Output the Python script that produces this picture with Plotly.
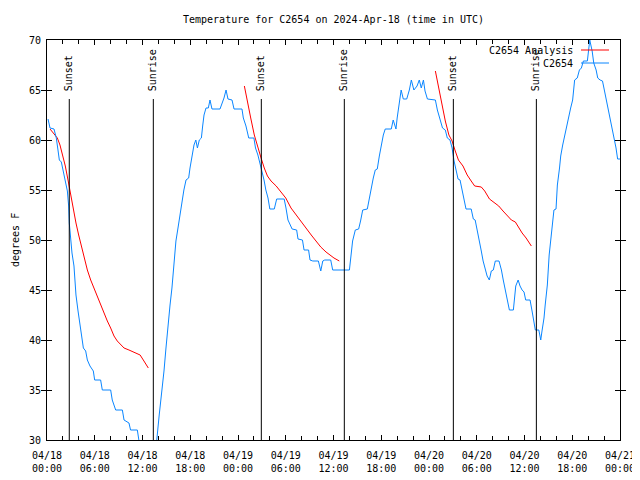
import pandas as pd
import plotly.graph_objects as go

START = pd.Timestamp("2024-04-18 00:00")

# Observed C2654 temperature (hours since 2024-04-18 00:00 UTC, degrees F)
obs_hours = [0.13, 0.38, 0.88, 1.17, 1.38, 1.55, 1.80, 2.05, 2.30, 2.56, 2.72, 2.80, 2.97, 3.14,
             3.39, 3.64, 3.90, 4.23, 4.57, 4.86, 5.07, 5.40, 5.82, 5.99, 6.74, 6.95, 8.00, 8.20,
             8.63, 9.47, 9.68, 10.30, 10.50, 11.35, 11.56, 12.0, 12.8, 13.4, 13.78, 14.10, 14.45,
             14.70, 14.95, 15.20, 15.46, 15.70, 15.96, 16.20, 16.46, 16.70, 16.96, 17.20, 17.47,
             17.80, 17.97, 18.20, 18.47, 18.70, 18.90, 19.14, 19.40, 19.56, 19.73, 19.98, 20.27,
             20.48, 20.73, 21.74, 22.24, 22.50, 22.74, 23.25, 23.50, 24.50, 24.67, 25.00, 25.35,
             26.00, 26.20, 26.50, 26.70, 27.00, 27.27, 27.50, 27.77, 28.00, 28.56, 28.86, 29.80,
             30.03, 30.28, 30.80, 31.37, 31.54, 32.10, 32.30, 32.87, 33.05, 33.40, 34.10, 34.40,
             34.65, 34.90, 35.65, 35.90, 38.00, 38.16, 38.40, 38.74, 39.16, 39.40, 39.67, 40.25,
             40.50, 40.76, 41.00, 41.25, 41.50, 41.76, 42.00, 42.26, 42.50, 43.26, 43.50, 43.85,
             44.00, 44.27, 44.50, 44.77, 45.20, 45.53, 45.78, 46.10, 46.50, 46.78, 47.03, 47.30,
             47.50, 47.80, 48.80, 49.05, 49.40, 49.70, 50.05, 50.30, 50.64, 50.90, 51.15, 51.40,
             51.65, 51.90, 52.15, 52.40, 52.65, 53.30, 53.57, 53.80, 54.07, 54.30, 54.57, 54.80,
             55.08, 55.30, 55.58, 55.83, 56.08, 56.33, 56.80, 57.10, 57.33, 57.60, 57.84, 58.10,
             58.60, 58.78, 58.90, 59.20, 59.44, 59.70, 59.94, 60.15, 60.70, 60.95, 61.20, 61.36,
             61.80, 62.04, 62.20, 62.45, 62.60, 62.87, 63.10, 63.30, 63.46, 63.70, 63.96, 64.13,
             64.40, 64.55, 64.80, 65.05, 65.30, 65.55, 65.80, 66.05, 66.30, 66.63, 66.90, 67.15,
             67.40, 67.90, 68.15, 68.20, 68.50, 68.70, 69.00, 69.20, 69.50, 69.80, 69.98, 70.24,
             70.50, 70.75, 71.00, 71.25, 71.50, 71.70, 72.00]
obs_temp = [62.1, 61.2, 61.1, 60.2, 59.0, 58.0, 57.8, 56.9, 55.9, 54.9, 53.4, 51.7, 50.2, 48.7,
            47.4, 44.5, 42.9, 41.2, 39.2, 38.9, 38.0, 37.4, 36.9, 36.0, 36.0, 35.0, 35.0, 34.0,
            33.0, 33.0, 32.0, 31.7, 31.0, 31.0, 29.9, 28.6, 27.8, 28.4, 29.9, 32.5, 34.9,
            36.9, 39.2, 41.5, 43.5, 45.2, 47.5, 49.9, 51.2, 52.5, 53.9, 55.0, 56.0,
            56.2, 57.2, 58.5, 59.5, 60.0, 59.2, 60.0, 60.2, 61.4, 62.5, 63.2, 63.2,
            64.0, 63.1, 63.1, 64.2, 65.0, 64.1, 64.0, 63.1, 63.1, 62.2, 61.4, 60.2,
            60.2, 59.2, 58.5, 57.9, 56.9, 56.0, 55.0, 54.2, 53.1, 53.1, 54.1, 54.1,
            53.2, 52.0, 51.1, 51.0, 50.1, 50.0, 49.0, 49.0, 48.0, 47.9, 47.9, 46.9,
            47.9, 48.0, 48.0, 47.0, 47.0, 48.5, 49.9, 51.0, 51.1, 51.9, 53.0, 53.1,
            54.2, 55.2, 56.2, 57.0, 57.1, 58.4, 59.5, 60.5, 61.1, 61.1, 62.0, 61.1,
            62.2, 63.7, 65.0, 64.1, 64.1, 65.0, 66.0, 65.0, 65.4, 66.0, 65.2, 66.0,
            64.9, 64.1, 64.0, 63.0, 62.1, 61.2, 61.0, 60.2, 60.0, 59.2, 57.9, 56.9,
            56.1, 56.0, 55.0, 54.0, 53.1, 53.1, 52.1, 52.0, 51.0, 50.0, 48.9, 47.9,
            46.9, 46.4, 46.0, 46.9, 47.0, 47.9, 47.9, 47.0, 46.0, 44.9, 44.0, 43.0,
            43.0, 44.2, 45.4, 46.0, 45.4, 45.0, 44.8, 44.0, 44.0, 42.9, 41.9, 41.0,
            41.0, 40.0, 40.9, 42.2, 43.5, 45.5, 48.5, 50.2, 51.7, 53.0, 53.1, 55.5,
            57.2, 58.4, 59.5, 60.5, 61.4, 62.2, 63.2, 64.0, 66.0, 66.2, 67.0, 67.2,
            67.9, 67.9, 69.5, 70.0, 68.9, 67.7, 67.0, 66.2, 66.0, 65.9, 65.2, 64.2,
            63.2, 62.2, 61.2, 60.2, 59.2, 58.1, 58.1]

# Analysis series, one segment per night
ana1_hours = [0.38, 1.30, 1.63, 1.97, 2.30, 2.64, 2.97, 3.30, 3.64, 3.98, 4.31, 4.65, 5.07, 5.49,
              5.90, 6.32, 6.74, 7.16, 7.58, 8.00, 8.42, 8.83, 9.26, 9.68, 10.30, 10.93, 11.56,
              11.70, 12.10, 12.73]
ana1_temp = [61.1, 60.2, 59.5, 58.5, 57.4, 56.0, 54.5, 53.2, 51.7, 50.5, 49.4, 48.2, 47.0, 46.0,
             45.2, 44.2, 43.5, 42.7, 41.9, 41.2, 40.4, 39.9, 39.5, 39.2, 39.0, 38.8, 38.6,
             38.5, 38.0, 37.2]
ana2_hours = [24.80, 25.20, 25.60, 26.05, 26.50, 26.90, 27.30, 27.70, 28.15, 28.80, 29.40, 30.00,
              30.66, 31.30, 31.90, 32.55, 33.20, 33.80, 34.40, 35.06, 36.06, 36.73]
ana2_temp = [65.4, 63.7, 62.2, 60.5, 59.2, 58.2, 57.2, 56.4, 55.9, 55.4, 54.8, 54.2,
             53.2, 52.5, 51.9, 51.2, 50.5, 49.9, 49.3, 48.8, 48.2, 47.9]
ana3_hours = [48.80, 49.20, 49.60, 50.05, 50.50, 50.90, 51.30, 51.70, 52.27, 52.80, 53.30, 53.74,
              54.57, 55.00, 55.60, 56.26, 56.76, 57.30, 57.84, 58.35, 58.85, 59.27, 59.70, 60.20,
              60.86]
ana3_temp = [66.9, 65.2, 63.5, 61.9, 60.5, 59.9, 58.9, 58.0, 57.4, 56.5, 55.9, 55.4,
             55.3, 54.9, 54.1, 53.7, 53.4, 52.9, 52.4, 52.0, 51.8, 51.2, 50.7, 50.2,
             49.4]

sun_labels = ["Sunset", "Sunrise", "Sunset", "Sunrise", "Sunset", "Sunrise"]
sun_hours = [2.80, 13.36, 26.93, 37.36, 51.06, 61.49]

y_ticks = [30, 35, 40, 45, 50, 55, 60, 65, 70]
x_tick_count = 13  # every 6 hours over 3 days


def to_time(hours):
    return [None if h is None else START + pd.Timedelta(hours=h) for h in hours]


ana_hours = ana1_hours + [None] + ana2_hours + [None] + ana3_hours
ana_temp = ana1_temp + [None] + ana2_temp + [None] + ana3_temp

FONT = "DejaVu Sans Mono"
BLUE = "#0a86ff"
RED = "#ff0000"

# page body adds an 8px offset; figure is sized so the plot lands where the reference has it
W, H = 632, 472
ML, MT, MR, MB = 39, 32, 20, 40
PW, PH = W - ML - MR, H - MT - MB  # 573 x 400


def px_x(sx):  # screen x -> paper
    return (sx - 8 - ML) / PW


def px_y(sy):  # screen y -> paper
    return (H - MB - (sy - 8)) / PH


xt = pd.date_range(START, periods=x_tick_count, freq="6h")
x_range = [START, START + pd.Timedelta(hours=72)]

fig = go.Figure()
fig.add_trace(go.Scatter(x=to_time(ana_hours), y=ana_temp, mode="lines",
                         name="C2654 Analysis", line=dict(color=RED, width=1),
                         connectgaps=False, showlegend=False))
fig.add_trace(go.Scatter(x=to_time(obs_hours), y=obs_temp, mode="lines",
                         name="C2654", line=dict(color=BLUE, width=1), showlegend=False))
# empty carrier trace so the second (time-of-day) label row is drawn
fig.add_trace(go.Scatter(x=x_range, y=[None, None], xaxis="x2", yaxis="y", mode="lines",
                         showlegend=False, hoverinfo="skip"))

# sunrise / sunset markers
for lab, h in zip(sun_labels, sun_hours):
    t = START + pd.Timedelta(hours=h)
    fig.add_shape(type="line", xref="x", yref="paper", x0=t, x1=t, y0=0, y1=px_y(99),
                  line=dict(color="black", width=1))
    fig.add_annotation(x=t, xref="x", y=px_y(93), yref="paper", text=lab,
                       textangle=-90, showarrow=False, xanchor="center", yanchor="bottom",
                       font=dict(family=FONT, size=10, color="black"))

# legend (gnuplot style: text, then sample line)
leg_names = ["C2654 Analysis", "C2654"]
leg_colors = [RED, BLUE]
for i, (nm, col) in enumerate(zip(leg_names, leg_colors)):
    yy = px_y(50 + 13 * i)
    fig.add_annotation(x=px_x(575), xref="paper", y=yy, yref="paper", text=nm,
                       showarrow=False, xanchor="right", yanchor="middle",
                       font=dict(family=FONT, size=10, color="black"))
    fig.add_shape(type="line", xref="paper", yref="paper", x0=px_x(581),
                  x1=px_x(609), y0=yy, y1=yy, line=dict(color=col, width=1))

# y-axis title
fig.add_annotation(x=px_x(15), xref="paper", y=0.5, yref="paper", text="degrees F",
                   textangle=-90, showarrow=False, xanchor="center", yanchor="middle",
                   font=dict(family=FONT, size=10, color="black"))

tf = dict(family=FONT, size=10, color="black")
fig.update_layout(
    width=W, height=H,
    margin=dict(l=ML, r=MR, t=MT, b=MB),
    paper_bgcolor="white", plot_bgcolor="white",
    font=tf,
    title=dict(text="Temperature for C2654 on 2024-Apr-18 (time in UTC)", x=0.5, xref="paper",
               xanchor="center", y=1 - 11 / H, yref="container", yanchor="middle", font=tf),
    xaxis=dict(type="date", range=x_range,
               tickvals=list(xt), ticktext=[t.strftime("%m/%d") for t in xt],
               ticks="inside", ticklen=5, tickcolor="black", showgrid=False, zeroline=False,
               showline=True, linecolor="black", linewidth=1, mirror="allticks",
               ticklabelstandoff=6, automargin=False,
               minor=dict(dtick=2 * 3600 * 1000, ticks="inside", ticklen=4,
                          tickcolor="black", showgrid=False),
               tickfont=tf),
    xaxis2=dict(type="date", range=x_range, overlaying="x", side="bottom", anchor="y",
                tickvals=list(xt), ticktext=[t.strftime("%H:%M") for t in xt],
                ticks="", showgrid=False, zeroline=False, showline=False,
                ticklabelstandoff=21, automargin=False, tickfont=tf),
    yaxis=dict(range=[30, 70], tickvals=y_ticks, ticks="inside", ticklen=5,
               tickcolor="black", showgrid=False, zeroline=False, showline=True,
               linecolor="black", linewidth=1, mirror="allticks", ticklabelstandoff=3,
               tickfont=tf),
)

fig.write_html("out.html")
